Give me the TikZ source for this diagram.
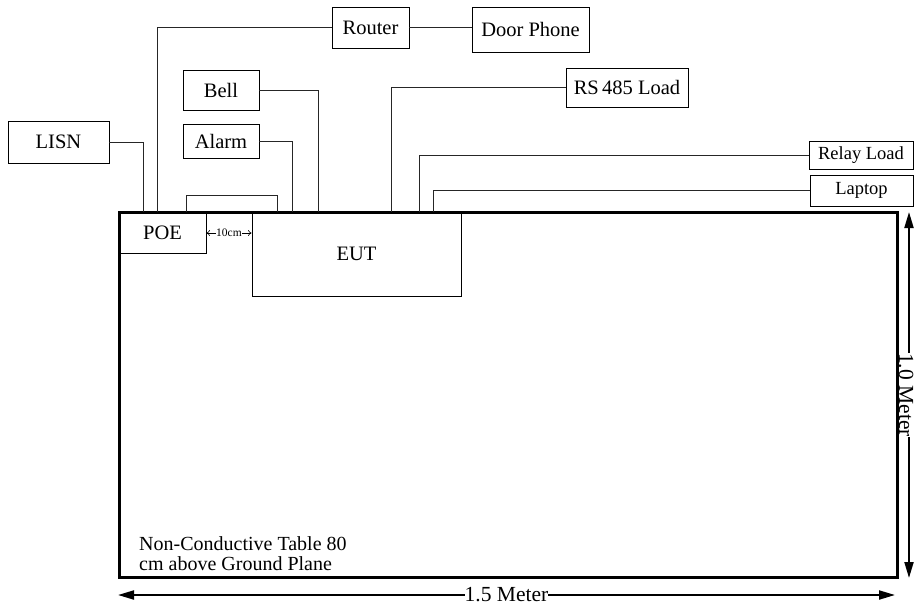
\documentclass[tikz,border=0pt]{standalone}
\usepackage{fontspec}
\setmainfont{Liberation Serif}
\usetikzlibrary{arrows.meta}
\tikzset{
  box/.style={draw, line width=0.8pt, inner sep=0pt, font=\fontsize{20.5}{24}\selectfont},
  sbox/.style={box, font=\fontsize{18.5}{22}\selectfont},
  wire/.style={line width=0.8pt, draw=black!85},
  dim/.style={line width=2pt, {Triangle[length=16pt,width=9pt]}-{Triangle[length=16pt,width=9pt]}},
  dimlabel/.style={fill=white, inner sep=0pt, font=\fontsize{21.5}{24}\selectfont},
}
\begin{document}
\begin{tikzpicture}[x=1pt,y=-1pt]
\useasboundingbox (0,0) rectangle (914,606);
% dimensions
\coordinate (hL) at (118,595);
\coordinate (hR) at (895,595);
\draw[dim] (hL) -- node[dimlabel] {1.5 Meter} (hR);
\coordinate (vT) at (909,212);
\coordinate (vB) at (909,578);
\draw[dim] (vT) -- node[dimlabel, xshift=-3pt, rotate=-90] {1.0 Meter} (vB);
% table
\draw[line width=3pt] (119,212) rectangle (897,577);
% boxes
\node[box, minimum width=101pt, minimum height=42pt] (LISN) at (58.5,142) {LISN};
\node[box, minimum width=77pt, minimum height=41pt] (Router) at (370.5,27.5) {Router};
\node[box, minimum width=117pt, minimum height=45pt] (Door) at (530.5,29.5) {Door Phone};
\node[box, minimum width=76pt, minimum height=40pt] (Bell) at (221,90) {Bell};
\node[box, minimum width=76pt, minimum height=34pt] (Alarm) at (221,141) {Alarm};
\node[box, minimum width=122pt, minimum height=39pt] (RS) at (627,87.5) {RS\,485 Load};
\node[sbox, minimum width=104pt, minimum height=28pt] (Relay) at (861,155) {Relay Load};
\node[sbox, minimum width=103pt, minimum height=31pt] (Laptop) at (861.5,190.5) {Laptop};
\node[box, minimum width=87pt, minimum height=41pt] (POE) at (162.5,232.5) {POE};
\node[box, minimum width=209pt, minimum height=84pt] (EUT) at (356.5,254) {EUT};
% connector end points on the table top
\coordinate (pLISN) at (143,212);
\coordinate (pRouter) at (157,212);
\coordinate (pAlarm) at (292,212);
\coordinate (pBell) at (318,212);
\coordinate (pRS) at (391,212);
\coordinate (pRelay) at (419,212);
\coordinate (pLaptop) at (433,212);
\coordinate (lpA) at (186,212);
\coordinate (lpB) at (277,212);
% connectors
\draw[wire] (LISN.east) -| (pLISN);
\draw[wire] (Router.west) -| (pRouter);
\draw[wire] (Router.east) -- (Router.east -| Door.west);
\draw[wire] (Bell.east) -| (pBell);
\draw[wire] (Alarm.east) -| (pAlarm);
\draw[wire] (RS.west) -| (pRS);
\draw[wire] (Relay.west) -| (pRelay);
\draw[wire] (Laptop.west) -| (pLaptop);
\draw[wire] (lpA) -- (186,195) -- (277,195) -- (lpB);
% 10cm
\draw[line width=0.6pt, {To[length=3.5pt,width=6pt]}-{To[length=3.5pt,width=6pt]}] (POE.east |- 0,233) -- node[fill=white, inner sep=0.2pt, font=\fontsize{11.5}{12}\selectfont] {10cm} (EUT.west |- 0,233);
% table caption
\node[anchor=base west, align=left, inner sep=0pt, font=\fontsize{20}{20}\selectfont] (cap) at (139,570) {Non-Conductive Table 80\\cm above Ground Plane};
\end{tikzpicture}
\end{document}
